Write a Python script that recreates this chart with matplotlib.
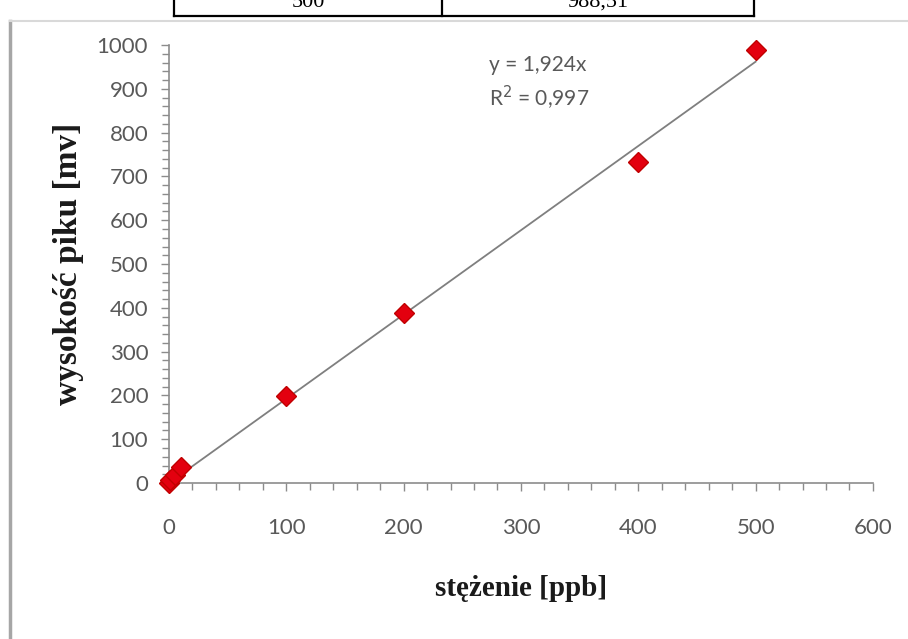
import matplotlib
matplotlib.use("Agg")
import matplotlib.pyplot as plt
from matplotlib.lines import Line2D
from matplotlib.ticker import MultipleLocator

# dane kalibracyjne
stezenie = [0, 1, 5, 10, 100, 200, 400, 500]
wysokosc = [0, 6, 18, 36, 199, 389, 733, 988.51]
slope = 1.924
r2_text = "0,997"

# fragment tabeli nad wykresem
table_cells = ["500", "988,51"]

tick_font = ["Lato", "DejaVu Sans"]
label_font = ["Liberation Serif", "DejaVu Serif"]

fig = plt.figure(figsize=(9.08, 6.39), dpi=100)
ax = fig.add_axes([0.1861, 0.2441, 0.7753, 0.6854])

# linia trendu
x_line = [0, max(stezenie)]
y_line = [slope * v for v in x_line]
ax.plot(x_line, y_line, color="#7f7f7f", lw=1.3, zorder=2)

ax.plot(stezenie, wysokosc, linestyle="none", marker="D", markersize=10,
        markerfacecolor="#e3000f", markeredgecolor="#c00000", zorder=3,
        clip_on=False)

ax.set_xlim(0, 600)
ax.set_ylim(0, 1000)
ax.xaxis.set_major_locator(MultipleLocator(100))
ax.xaxis.set_minor_locator(MultipleLocator(20))
ax.yaxis.set_major_locator(MultipleLocator(100))
ax.yaxis.set_minor_locator(MultipleLocator(20))

for s in ["top", "right"]:
    ax.spines[s].set_visible(False)
for s in ["left", "bottom"]:
    ax.spines[s].set_color("#8c8c8c")
    ax.spines[s].set_linewidth(1.2)

ax.tick_params(axis="both", which="both", direction="out", color="#8c8c8c",
               width=1.0)
ax.tick_params(axis="both", which="major", length=6)
ax.tick_params(axis="both", which="minor", length=5)
ax.tick_params(axis="x", which="major", pad=19)
ax.tick_params(axis="y", which="major", pad=9)

for lab in ax.get_xticklabels() + ax.get_yticklabels():
    lab.set_family(tick_font)
    lab.set_fontsize(16)
    lab.set_color("#595959")

ax.text(0.4543, 0.955, "y = 1,924x", transform=ax.transAxes,
        family=tick_font, fontsize=15, color="#595959", va="center")
ax.text(0.4543, 0.88, "R$^2$ = " + r2_text, transform=ax.transAxes,
        family=tick_font, fontsize=15, color="#595959", va="center")

ax.set_xlabel("stężenie [ppb]", family=label_font, fontweight="bold",
              fontsize=21, color="#1a1a1a", labelpad=27)
ax.set_ylabel("wysokość piku [mv]", family=label_font, fontweight="bold",
              fontsize=24, color="#1a1a1a", labelpad=9)

# ramka obszaru wykresu
W, H = 908, 639
fig.add_artist(Line2D([10 / W, 10 / W], [0, 1 - 21 / H], color="#a6a6a6", lw=2.5))
fig.add_artist(Line2D([10 / W, 1], [1 - 21 / H, 1 - 21 / H], color="#d9d9d9", lw=1.5))

# ucięta tabela u góry
tx = [174, 442, 754]
for xp in tx:
    fig.add_artist(Line2D([xp / W, xp / W], [1 - 16 / H, 1], color="black", lw=1.6))
fig.add_artist(Line2D([tx[0] / W, tx[-1] / W], [1 - 16 / H, 1 - 16 / H],
                      color="black", lw=1.6))
for cx, txt in zip([308, 598], table_cells):
    fig.text(cx / W, 1 - 7 / H, txt, ha="center", va="baseline",
             family=label_font, fontsize=16, color="black")

fig.savefig("out.png", dpi=100, facecolor="white")
